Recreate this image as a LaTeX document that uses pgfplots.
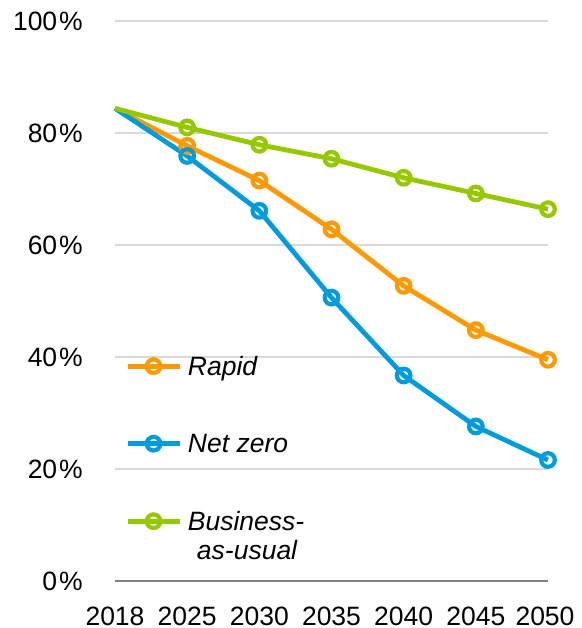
\documentclass[border=0pt]{standalone}
\usepackage{fontspec}
\setmainfont{Liberation Sans}
\usepackage{pgfplots}
\pgfplotsset{compat=1.18}
\definecolor{cRapid}{RGB}{255,153,0}
\definecolor{cNet}{RGB}{0,156,222}
\definecolor{cBau}{RGB}{150,200,0}
\definecolor{cGrid}{RGB}{217,217,217}
\definecolor{cAxis}{RGB}{128,128,128}
\tikzset{ser/.style={color=#1, line width=4.8pt, mark=o, mark size=6.8pt,
     mark options={fill=white, line width=4.2pt}}}
\begin{document}
\begin{tikzpicture}
\path[use as bounding box] (-115pt,-47pt) rectangle (466pt,581pt);
\begin{axis}[
  at={(0,0)}, anchor=south west,
  scale only axis, width=433pt, height=560pt,
  xmin=0, xmax=6, ymin=0, ymax=100,
  clip=false,
  axis lines*=left, separate axis lines,
  y axis line style={draw=none},
  x axis line style={draw=cAxis, line width=1.5pt, -},
  ymajorgrids, grid style={draw=cGrid, line width=1.5pt},
  major tick length=0pt,
  xtick={0,...,6},
  xticklabels={2018,2025,2030,2035,2040,2045,\kern-6pt 2050},
  ytick={0,20,40,60,80,100},
  yticklabel={\pgfmathprintnumber{\tick}\kern2pt\%},
  /pgf/number format/assume math mode=true,
  ticklabel style={font=\fontsize{26.5}{30}\selectfont, inner sep=0pt},
  xticklabel style={anchor=north, yshift=-25.7pt},
  yticklabel style={anchor=east, xshift=-32pt},
  legend cell align=left,
  legend image code/.code={\draw[mark indices={2},#1] plot coordinates {(0pt,0pt) (26pt,0pt) (52pt,0pt)};},
  legend style={at={(rel axis cs:0.023,0.4054)}, anchor=north west, draw=none, fill=none,
     inner sep=0pt, row sep=53.5pt,
     font=\fontsize{26.5}{30}\selectfont\itshape,
     nodes={inner sep=0pt, text height=21pt, text depth=3pt},
     /tikz/every odd column/.append style={column sep=6pt}},
]
\addplot[ser=cRapid, mark indices={2,3,4,5,6,7}] coordinates {(0,84.4) (1,77.7) (2,71.5) (3,62.8) (4,52.7) (5,44.8) (6,39.5)};
\addlegendentry{Rapid}
\addplot[ser=cNet, mark indices={2,3,4,5,6,7}] coordinates {(0,84.4) (1,75.9) (2,66.1) (3,50.6) (4,36.7) (5,27.6) (6,21.6)};
\addlegendentry{Net zero}
\addplot[ser=cBau, mark indices={2,3,4,5,6,7}] coordinates {(0,84.4) (1,81.0) (2,77.9) (3,75.4) (4,72.0) (5,69.2) (6,66.4)};
\addlegendentry{Business-}
\node[anchor=base, inner sep=0pt, font=\fontsize{26.5}{30}\selectfont\itshape] at (rel axis cs:0.305,0.0375) {as-usual};
\end{axis}
\end{tikzpicture}
\end{document}
